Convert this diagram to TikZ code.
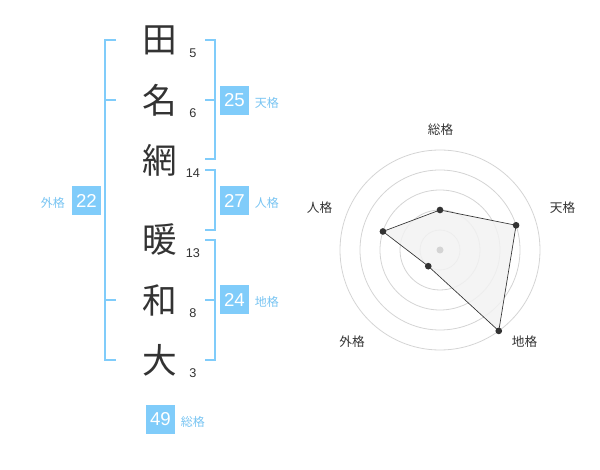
\documentclass[tikz,border=0pt]{standalone}
\usepackage{fontspec}
\usetikzlibrary{positioning}
\setmainfont{Liberation Sans}
\newfontfamily\jpfont{Noto Sans CJK JP}
\definecolor{kakublue}{RGB}{128,204,250}
\definecolor{kakutext}{RGB}{120,196,242}
\definecolor{inkgray}{RGB}{51,51,51}
\definecolor{ringgray}{RGB}{212,212,212}
\definecolor{areagray}{RGB}{242,242,242}

\tikzset{
  kanji/.style={font=\jpfont\fontsize{26}{26}\selectfont, text=inkgray, inner sep=0pt},
  strokes/.style={font=\fontsize{9.5}{9.5}\selectfont, text=inkgray, inner sep=0pt},
  kakubox/.style={fill=kakublue, text=white, inner sep=0pt, minimum width=21.75pt, minimum height=21.75pt, font=\fontsize{14}{14}\selectfont},
  kakulabel/.style={font=\jpfont\fontsize{9}{9}\selectfont, text=kakutext, inner sep=0pt},
  bracket/.style={draw=kakublue, line width=1.5pt},
  ring/.style={draw=ringgray, line width=0.6pt},
  axislabel/.style={font=\jpfont\fontsize{9.5}{9.5}\selectfont, text=inkgray, inner sep=0pt},
  dot/.style={circle, fill=inkgray, inner sep=0pt, minimum size=5pt}
}

\begin{document}
\begin{tikzpicture}[x=0.75pt,y=0.75pt,yscale=-1,xscale=1]
\useasboundingbox (0,0) rectangle (600,470);

% name characters and stroke counts
\node[kanji] (c1) at (159.5,40.5) {田};
\node[kanji] (c2) at (159.5,100.5) {名};
\node[kanji] (c3) at (159.5,160) {網};
\node[kanji] (c4) at (159.5,240) {暖};
\node[kanji] (c5) at (159.5,300) {和};
\node[kanji] (c6) at (159.5,360) {大};
\node[strokes] (n1) at (193,53) {5};
\node[strokes] (n2) at (193,113) {6};
\node[strokes] (n3) at (193,173) {14};
\node[strokes] (n4) at (193,253) {13};
\node[strokes] (n5) at (193,313) {8};
\node[strokes] (n6) at (193,373) {3};

% brackets
\draw[bracket] (116,40) -- (105,40) -- (105,360) -- (116,360) (105,100) -- (116,100) (105,300) -- (116,300);
\draw[bracket] (205,40) -- (215,40) -- (215,159) -- (205,159) (215,100) -- (205,100);
\draw[bracket] (205,170) -- (215,170) -- (215,230) -- (205,230);
\draw[bracket] (205,240) -- (215,240) -- (215,360) -- (205,360) (215,300) -- (205,300);

% kaku values
\node[kakubox] (ten) at (234.5,100.5) {25};
\node[kakulabel, right=4pt of ten, yshift=-1.5pt] (ten-l) {天格};
\node[kakubox] (jin) at (234.5,200.5) {27};
\node[kakulabel, right=4pt of jin, yshift=-1.5pt] (jin-l) {人格};
\node[kakubox] (chi) at (234.5,300) {24};
\node[kakulabel, right=4pt of chi, yshift=-1.5pt] (chi-l) {地格};
\node[kakubox] (gai) at (86.5,200.5) {22};
\node[kakulabel, left=5pt of gai, yshift=-1.5pt] (gai-l) {外格};
\node[kakubox] (sou) at (160.5,419.5) {49};
\node[kakulabel, right=4pt of sou, yshift=-1.5pt] (sou-l) {総格};

% radar chart
\begin{scope}[shift={(440,250)}, yscale=-1]
  \foreach \r in {20,40,...,100}
    \draw[ring] (0,0) circle (\r);
  \foreach \name/\ang/\r in {sou/90/40, ten/18/80, chi/-54/100, gai/234/20, jin/162/60}
    \coordinate (p-\name) at (\ang:\r);
  \draw[fill=areagray, fill opacity=0.85, draw=inkgray, line width=0.5pt]
    (p-sou) -- (p-ten) -- (p-chi) -- (p-gai) -- (p-jin) -- cycle;
  \fill[ringgray] (0,0) circle (3.5);
  \foreach \name in {sou,ten,chi,gai,jin}
    \node[dot] (d-\name) at (p-\name) {};
\end{scope}
\node[axislabel] (a-sou) at (440.5,130) {総格};
\node[axislabel] (a-ten) at (562.5,208) {天格};
\node[axislabel] (a-chi) at (524.5,342) {地格};
\node[axislabel] (a-gai) at (352,342) {外格};
\node[axislabel] (a-jin) at (319.5,208) {人格};
\end{tikzpicture}
\end{document}
